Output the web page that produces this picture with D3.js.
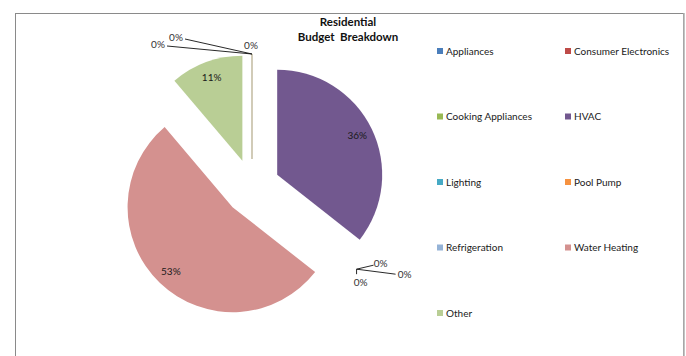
<!DOCTYPE html>
<html>
<head>
<meta charset="utf-8">
<script src="https://cdn.jsdelivr.net/npm/d3@7"></script>
<style>
  html, body { margin: 0; padding: 0; background: #fff; }
  svg { display: block; }
  text { font-family: Lato, "Noto Sans", sans-serif; }
</style>
</head>
<body>
<svg id="chart" width="686" height="356"></svg>
<script>
// Residential budget shares by end use (percent of total)
const categories = ["Appliances", "Consumer Electronics", "Cooking Appliances", "HVAC",
  "Lighting", "Pool Pump", "Refrigeration", "Water Heating", "Other"];
const shares = [0, 0, 0, 35.6, 0, 0, 0, 53.2, 11.2];
const sliceColors = ["#4a7ebb", "#be4b48", "#98b954", "#72588f",
  "#46aac5", "#f69240", "#95b3d7", "#d4918f", "#b9ce95"];
const titleLines = ["Residential", "Budget  Breakdown"];

const W = 686, H = 356;
const svg = d3.select("#chart");

// chart frame
svg.append("rect")
  .attr("x", 15.5).attr("y", 13.5)
  .attr("width", 668).attr("height", 380)
  .attr("fill", "#fff").attr("stroke", "#8a8a8a").attr("stroke-width", 1);
svg.append("line")
  .attr("x1", 684).attr("x2", 684).attr("y1", 13).attr("y2", H)
  .attr("stroke", "#b0b0b0").attr("stroke-width", 1.5);

// title
svg.append("text")
  .attr("x", 348).attr("y", 26)
  .attr("text-anchor", "middle")
  .attr("font-weight", "bold").attr("font-size", 11.5)
  .attr("fill", "#111")
  .style("white-space", "pre")
  .selectAll("tspan").data(titleLines).join("tspan")
  .attr("x", 348).attr("dy", (d, i) => i === 0 ? 0 : 15)
  .text(d => d);

const color = d3.scaleOrdinal().domain(categories).range(sliceColors);
const total = d3.sum(shares);
const pct = d3.format(".0%");

// exploded pie
const cx = 252, cy = 187, R = 105, explode = 28, labelR = 89;
const arcs = d3.pie().sort(null).value(d => d)(shares)
  .map((a, i) => Object.assign(a, { name: categories[i] }));
const arc = d3.arc().innerRadius(0).outerRadius(R);
const mid = a => (a.startAngle + a.endAngle) / 2;
const polar = (ang, r) => [Math.sin(ang) * r, -Math.cos(ang) * r];

const slices = svg.append("g").attr("transform", `translate(${cx},${cy})`);

arcs.forEach(a => {
  const [ox, oy] = polar(mid(a), explode);
  a.ox = ox; a.oy = oy;
});

slices.selectAll("path.slice")
  .data(arcs.filter(a => a.value > 0))
  .join("path")
  .attr("class", "slice")
  .attr("transform", a => `translate(${a.ox},${a.oy})`)
  .attr("d", arc)
  .attr("fill", a => color(a.name));

// the empty leading slices collapse into a seam at the start angle
const leadZero = arcs.filter(a => a.value === 0 && a.startAngle === 0);
if (leadZero.length) {
  const a = leadZero[0];
  const [ex, ey] = polar(a.startAngle, R);
  slices.append("line")
    .attr("x1", a.ox).attr("y1", a.oy)
    .attr("x2", a.ox + ex).attr("y2", a.oy + ey)
    .attr("stroke", "#b3a888").attr("stroke-width", 1.2);
}

// value labels inside the visible slices
slices.selectAll("text.val")
  .data(arcs.filter(a => a.value > 0))
  .join("text")
  .attr("class", "val")
  .attr("transform", a => {
    const [lx, ly] = polar(mid(a), labelR);
    return `translate(${a.ox + lx},${a.oy + ly})`;
  })
  .attr("text-anchor", "middle").attr("dy", "0.35em")
  .attr("font-size", 10).attr("fill", "#1a1a1a")
  .text(a => pct(a.value / total));

// zero-value labels fanned out with leader lines from the slice edge
const zeroGroups = d3.groups(arcs.filter(a => a.value === 0), a => a.startAngle);
const fanLayouts = [
  [ { dx: -94, dy: -10, lead: [-85, -8] }, { dx: -76, dy: -17, lead: [-67, -15] }, { dx: -1, dy: -9, lead: null } ],
  [ { dx: 24, dy: -6, lead: [17, -4] }, { dx: 48, dy: 5, lead: [39, 5] }, { dx: 4, dy: 13, lead: [0, 5] } ]
];
zeroGroups.forEach(([ang, group], gi) => {
  const a0 = group[0];
  const [ex, ey] = polar(ang, R);
  const px = a0.ox + ex, py = a0.oy + ey;
  group.forEach((a, j) => {
    const L = fanLayouts[gi][j];
    if (L.lead) {
      slices.append("line")
        .attr("x1", px).attr("y1", py)
        .attr("x2", px + L.lead[0]).attr("y2", py + L.lead[1])
        .attr("stroke", "#111").attr("stroke-width", 0.9);
    }
    slices.append("text")
      .attr("x", px + L.dx).attr("y", py + L.dy)
      .attr("text-anchor", "middle").attr("dy", "0.35em")
      .attr("font-size", 10).attr("fill", "#333")
      .text(pct(a.value / total));
  });
});

// legend: two columns
const legendX = d3.scaleOrdinal().domain([0, 1]).range([437, 565]);
const legendY = d3.scaleLinear().domain([0, 4]).range([51, 313]);
const legend = svg.append("g").selectAll("g")
  .data(categories)
  .join("g")
  .attr("transform", (d, i) => `translate(${legendX(i % 2)},${legendY(Math.floor(i / 2))})`);
legend.append("rect")
  .attr("x", 0).attr("y", -3).attr("width", 6).attr("height", 6)
  .attr("fill", d => color(d));
legend.append("text")
  .attr("x", 9).attr("dy", "0.35em")
  .attr("font-size", 10).attr("fill", "#1a1a1a")
  .text(d => d);
</script>
</body>
</html>
